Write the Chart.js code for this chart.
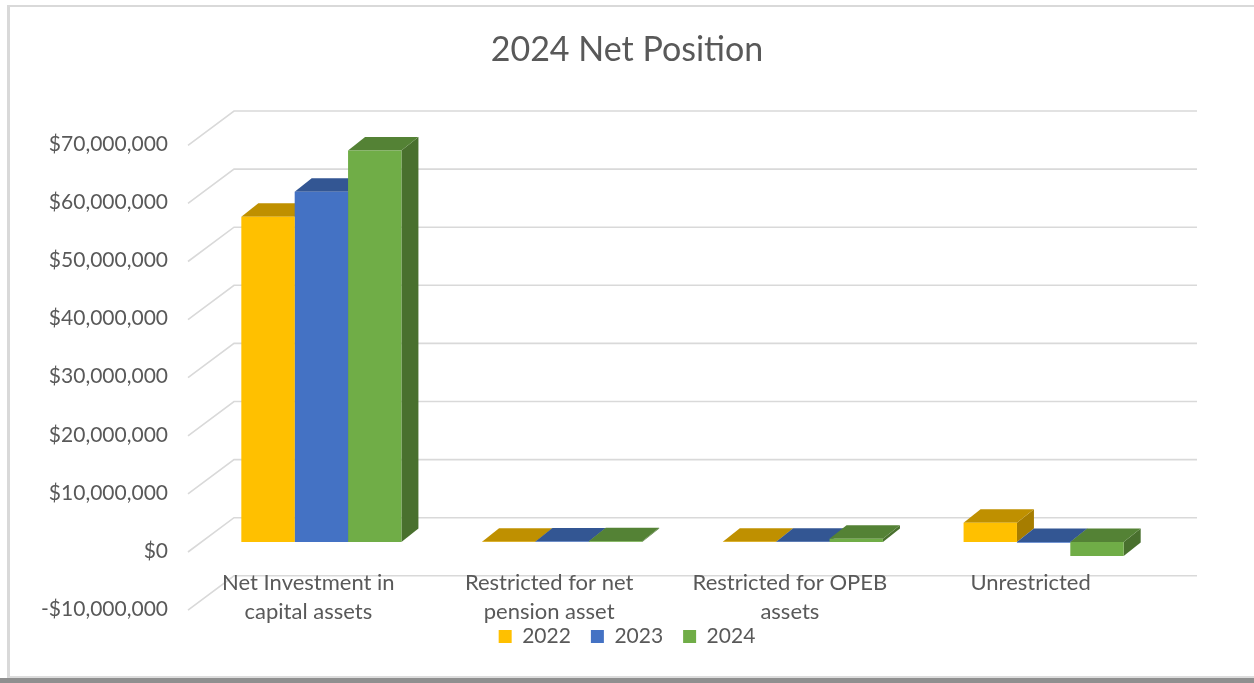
<!DOCTYPE html>
<html>
<head>
<meta charset="utf-8">
<script src="https://cdn.jsdelivr.net/npm/chart.js@4"></script>
<style>
  body { margin: 0; background: #fff; }
  #wrap { position: relative; width: 1254px; height: 683px; overflow: hidden; }
  .frame { position: absolute; left: 7px; top: 5px; right: -4px; bottom: 5px;
           border-top: 2px solid #d9d9d9; border-left: 3px solid #d9d9d9; border-bottom: 2px solid #dcdcdc; }
  .shadow { position: absolute; left: 0; right: 0; bottom: 0; height: 5px; background: #8f8f8f; }
  canvas { position: absolute; left: 0; top: 0; }
</style>
</head>
<body>
<div id="wrap">
  <div class="frame"></div>
  <div class="shadow"></div>
  <canvas id="myChart" width="1254" height="683"></canvas>
</div>
<script>
const ctx = document.getElementById('myChart')

let title = '2024 Net Position'
let categories = [
  ['Net Investment in', 'capital assets'],
  ['Restricted for net', 'pension asset'],
  ['Restricted for OPEB', 'assets'],
  'Unrestricted'
]
let years = ['2022', '2023', '2024']
let values2022 = [56000000, 60000, 50000, 3300000]
let values2023 = [60300000, 70000, 60000, -150000]
let values2024 = [67400000, 120000, 570000, -2400000]
let colors = ['#FFC000', '#4472C4', '#70AD47']
let yMin = -10000000
let yMax = 70000000
let yStep = 10000000

// depth offsets for the fake 3d look
const barDepth = { dx: 17, dy: 13.5 }
const frontPlane = { dx: -13, dy: 10 }
const backWall = { dx: 33, dy: -24.3 }

function shade(hex, f) {
    let n = parseInt(hex.slice(1), 16)
    let r = Math.round(((n >> 16) & 255) * f)
    let g = Math.round(((n >> 8) & 255) * f)
    let b = Math.round((n & 255) * f)
    return `rgb(${r},${g},${b})`
}

function money(v) {
    let s = '$' + Math.abs(v).toLocaleString('en-US')
    return v < 0 ? '-' + s : s
}

// labels sit outside their axis box here, so don't clip them
function noClip(s) {
    s._computeLabelArea = () => undefined
}

const wallPlugin = {
    id: 'wall',
    beforeDraw(chart) {
        const c = chart.ctx
        const a = chart.chartArea
        const y = chart.scales.y
        c.save()
        c.strokeStyle = '#d9d9d9'
        c.lineWidth = 1.6
        y.ticks.forEach(t => {
            let py = y.getPixelForValue(t.value)
            c.beginPath()
            c.moveTo(a.left + frontPlane.dx, py + frontPlane.dy)
            c.lineTo(a.left + backWall.dx, py + backWall.dy)
            c.lineTo(a.right + backWall.dx, py + backWall.dy)
            c.stroke()
        })
        c.restore()
    }
}

const facesPlugin = {
    id: 'faces',
    beforeDatasetsDraw(chart) {
        const c = chart.ctx
        const { dx, dy } = barDepth
        function poly(pts) {
            c.beginPath()
            c.moveTo(pts[0][0], pts[0][1])
            for (let k = 1; k < pts.length; k++) c.lineTo(pts[k][0], pts[k][1])
            c.closePath()
            c.fill()
        }
        c.save()
        for (let i = 0; i < chart.data.labels.length; i++) {
            chart.data.datasets.forEach((ds, d) => {
                const bar = chart.getDatasetMeta(d).data[i]
                const p = bar.getProps(['x', 'y', 'base', 'width'], true)
                const l = p.x - p.width / 2
                const r = p.x + p.width / 2
                const top = Math.min(p.y, p.base)
                const bot = Math.max(p.y, p.base)
                c.fillStyle = shade(ds.backgroundColor, 0.65)
                poly([[r, top], [r + dx, top - dy], [r + dx, bot - dy], [r, bot]])
                c.fillStyle = shade(ds.backgroundColor, 0.75)
                poly([[l, top], [l + dx, top - dy], [r + dx, top - dy], [r, top]])
            })
        }
        c.restore()
    }
}

const font = "Lato, 'Open Sans', sans-serif"

const myChart = new Chart(ctx, {
    type: 'bar',
    data: {
        labels: categories,
        datasets: [
            { label: years[0], data: values2022, backgroundColor: colors[0] },
            { label: years[1], data: values2023, backgroundColor: colors[1] },
            { label: years[2], data: values2024, backgroundColor: colors[2] }
        ]
    },
    options: {
        responsive: false,
        animation: false,
        devicePixelRatio: 1,
        layout: { autoPadding: false, padding: { left: 0, right: 0, top: 0, bottom: 26 } },
        datasets: {
            bar: { categoryPercentage: 0.665, barPercentage: 1.0, borderWidth: 0 }
        },
        scales: {
            x: {
                grid: { display: false, drawTicks: false },
                border: { display: false },
                ticks: {
                    color: '#595959',
                    font: { family: font, size: 22, lineHeight: 1.33 },
                    padding: -31.7,
                    labelOffset: -13,
                    maxRotation: 0,
                    autoSkip: false
                },
                afterFit: s => { s.height = 5.9; noClip(s) }
            },
            y: {
                min: yMin,
                max: yMax,
                grid: { display: false, drawTicks: false },
                border: { display: false },
                ticks: {
                    stepSize: yStep,
                    color: '#595959',
                    font: { family: font, size: 21 },
                    padding: 33,
                    labelOffset: 9,
                    callback: v => money(v)
                },
                afterFit: s => { s.width = 201; noClip(s) }
            },
            // empty right-hand strip so the plot stops where the back wall does
            pad: {
                type: 'linear',
                position: 'right',
                grid: { display: false },
                border: { display: false },
                ticks: { display: false },
                afterFit: s => { s.width = 90 }
            }
        },
        plugins: {
            title: {
                display: true,
                text: title,
                color: '#595959',
                font: { family: font, size: 34, weight: 'normal', lineHeight: 1.2 },
                padding: { top: 29.6, bottom: 64.9 }
            },
            legend: {
                position: 'bottom',
                labels: {
                    color: '#595959',
                    font: { family: font, size: 21 },
                    boxWidth: 13,
                    boxHeight: 13,
                    padding: 20
                }
            },
            tooltip: { enabled: false }
        }
    },
    plugins: [wallPlugin, facesPlugin]
})
</script>
</body>
</html>
